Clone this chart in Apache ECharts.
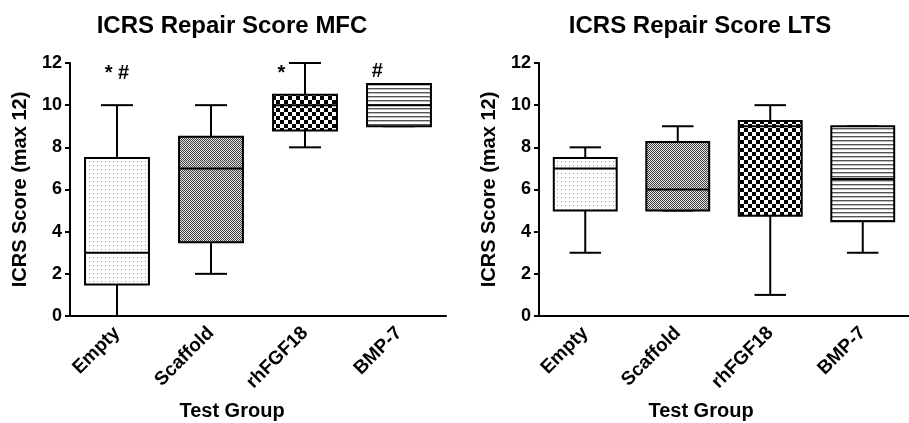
<!DOCTYPE html>
<html>
<head>
<meta charset="utf-8">
<script src="https://cdn.jsdelivr.net/npm/echarts@6/dist/echarts.min.js"></script>
<style>html,body{margin:0;padding:0;background:#fff}#c{width:909px;height:423px}</style>
</head>
<body>
<div id="c"></div>
<script>
var categories = ['Empty', 'Scaffold', 'rhFGF18', 'BMP-7'];
var yTicks = [0, 2, 4, 6, 8, 10, 12];

var mfcMin = [0, 2, 8, 9];
var mfcQ1 = [1.5, 3.5, 8.8, 9];
var mfcMed = [3, 7, 10, 10];
var mfcQ3 = [7.5, 8.5, 10.5, 11];
var mfcMax = [10, 10, 12, 11];

var ltsMin = [3, 5, 1, 3];
var ltsQ1 = [5, 5, 4.75, 4.5];
var ltsMed = [7, 6, 9, 6.5];
var ltsQ3 = [7.5, 8.25, 9.25, 9];
var ltsMax = [8, 9, 10, 9];

var mfcMarkCats = [0, 2, 3];
var mfcMarkTexts = ['* #', '*', '#'];
var mfcMarkValues = [11.5, 11.5, 11.6];
var mfcMarkShift = [0, -0.25, -0.23];

var FONT = 'Liberation Sans, Arial, Helvetica, sans-serif';

function makePattern(w, h, draw) {
  var c = document.createElement('canvas');
  c.width = w; c.height = h;
  var g = c.getContext('2d');
  g.fillStyle = '#fff'; g.fillRect(0, 0, w, h);
  draw(g);
  return { image: c, repeat: 'repeat' };
}
var patterns = [
  makePattern(4, 4, function (g) { g.fillStyle = '#999'; g.fillRect(1, 1, 1, 1); }),
  makePattern(2, 2, function (g) { g.fillStyle = '#444'; g.fillRect(0, 0, 1, 1); g.fillRect(1, 1, 1, 1); g.fillStyle = '#e0e0e0'; g.fillRect(1, 0, 1, 1); g.fillRect(0, 1, 1, 1); }),
  makePattern(8, 8, function (g) { g.fillStyle = '#000'; g.fillRect(0, 0, 4, 4); g.fillRect(4, 4, 4, 4); }),
  makePattern(4, 4, function (g) { g.fillStyle = '#555'; g.fillRect(0, 0, 4, 1); g.fillStyle = '#bbb'; g.fillRect(0, 1, 4, 1); })
];

function boxData(mn, q1, md, q3, mx) {
  return categories.map(function (c, i) { return [i, mn[i], q1[i], md[i], q3[i], mx[i]]; });
}

function renderBox(params, api) {
  var i = api.value(0);
  var band = api.size([1, 0])[0];
  var bw = band * 0.68, cw = band * 0.34;
  var pMin = api.coord([i, api.value(1)]);
  var pQ1 = api.coord([i, api.value(2)]);
  var pMed = api.coord([i, api.value(3)]);
  var pQ3 = api.coord([i, api.value(4)]);
  var pMax = api.coord([i, api.value(5)]);
  var x = pMin[0];
  var ls = { stroke: '#000', lineWidth: 2 };
  return {
    type: 'group',
    children: [
      { type: 'line', shape: { x1: x, y1: pMax[1], x2: x, y2: pQ3[1] }, style: ls },
      { type: 'line', shape: { x1: x, y1: pQ1[1], x2: x, y2: pMin[1] }, style: ls },
      { type: 'line', shape: { x1: x - cw / 2, y1: pMax[1], x2: x + cw / 2, y2: pMax[1] }, style: ls },
      { type: 'line', shape: { x1: x - cw / 2, y1: pMin[1], x2: x + cw / 2, y2: pMin[1] }, style: ls },
      { type: 'rect', shape: { x: x - bw / 2, y: pQ3[1], width: bw, height: pQ1[1] - pQ3[1] },
        style: { fill: patterns[i], stroke: '#000', lineWidth: 2 } },
      { type: 'line', shape: { x1: x - bw / 2, y1: pMed[1], x2: x + bw / 2, y2: pMed[1] }, style: ls }
    ]
  };
}

function renderMark(params, api) {
  var i = api.value(0);
  var band = api.size([1, 0])[0];
  var p = api.coord([i, api.value(1)]);
  var shift = api.value(2) * band;
  return {
    type: 'text',
    x: p[0] + shift, y: p[1],
    style: { text: mfcMarkTexts[params.dataIndex], fill: '#000', font: 'bold 20px ' + FONT, align: 'center', verticalAlign: 'middle' }
  };
}

var axisTxt = { color: '#000', fontWeight: 'bold', fontFamily: FONT };

function xAx(idx) {
  return {
    type: 'category', gridIndex: idx, data: categories, boundaryGap: true,
    axisLine: { lineStyle: { color: '#000', width: 2 } },
    axisTick: { alignWithLabel: true, length: 6, lineStyle: { color: '#000', width: 2 } },
    axisLabel: Object.assign({ rotate: 45, margin: 14, interval: 0, fontSize: 19 }, axisTxt),
    splitLine: { show: false }
  };
}
function yAx(idx) {
  return {
    type: 'value', gridIndex: idx, min: 0, max: 12, interval: 2,
    name: 'ICRS Score (max 12)', nameLocation: 'middle', nameGap: 40, nameRotate: 90,
    nameTextStyle: { color: '#000', fontWeight: 'bold', fontSize: 20, fontFamily: FONT },
    axisLine: { show: true, lineStyle: { color: '#000', width: 2 } },
    axisTick: { show: true, length: 5, lineStyle: { color: '#000', width: 2 } },
    axisLabel: Object.assign({ margin: 8, fontSize: 18, formatter: function (v) { return yTicks.indexOf(v) >= 0 ? String(v) : ''; } }, axisTxt),
    splitLine: { show: false }
  };
}

function ttl(text, left, top, size) {
  return { text: text, left: left, top: top, textAlign: 'center', padding: 0,
    textStyle: { color: '#000', fontWeight: 'bold', fontSize: size, fontFamily: FONT } };
}

var chart = echarts.init(document.getElementById('c'), null, { renderer: 'canvas' });
chart.setOption({
  backgroundColor: '#fff',
  animation: false,
  title: [
    ttl('ICRS Repair Score MFC', 232, 14, 24),
    ttl('ICRS Repair Score LTS', 700, 14, 24),
    ttl('Test Group', 232, 401, 20),
    ttl('Test Group', 701, 401, 20)
  ],
  grid: [
    { left: 70, top: 63, width: 376, height: 253 },
    { left: 539, top: 63, width: 379, height: 253 }
  ],
  xAxis: [xAx(0), xAx(1)],
  yAxis: [yAx(0), yAx(1)],
  series: [
    { type: 'custom', xAxisIndex: 0, yAxisIndex: 0, renderItem: renderBox, data: boxData(mfcMin, mfcQ1, mfcMed, mfcQ3, mfcMax), clip: false },
    { type: 'custom', xAxisIndex: 1, yAxisIndex: 1, renderItem: renderBox, data: boxData(ltsMin, ltsQ1, ltsMed, ltsQ3, ltsMax), clip: false },
    { type: 'custom', xAxisIndex: 0, yAxisIndex: 0, renderItem: renderMark,
      data: mfcMarkCats.map(function (c, k) { return [c, mfcMarkValues[k], mfcMarkShift[k]]; }) }
  ]
});
</script>
</body>
</html>
